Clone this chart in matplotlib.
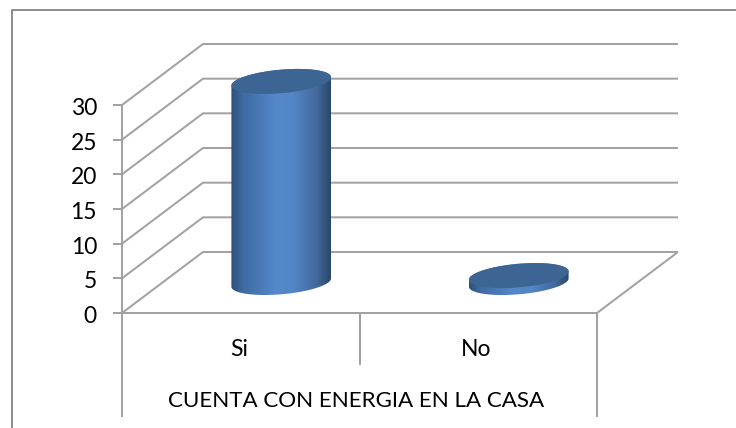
import numpy as np
import matplotlib
matplotlib.use("Agg")
import matplotlib.pyplot as plt
from matplotlib.colors import LinearSegmentedColormap
from matplotlib.lines import Line2D
from matplotlib.patches import Polygon

plt.rcParams['font.family'] = ['Lato', 'DejaVu Sans']

categories = ['Si', 'No']
values = [29, 1]
y_ticks = [0, 5, 10, 15, 20, 25, 30]
axis_title = 'CUENTA CON ENERGIA EN LA CASA'

W, H = 736, 428
grid_color = '#a2a2a2'
top_color = '#3c6594'
side_colors = ['#2e5078', '#3f6ba3', '#5488ca', '#5286c6', '#42699c', '#2a4768']
side_cmap = LinearSegmentedColormap.from_list(
    'cyl', list(zip([0, 0.12, 0.45, 0.62, 0.86, 1], side_colors)))

# floor depth in data units, 81px across and 61px up
X_PX = 475 / 2
Y_PX = 208 / 30
DX = 81 / X_PX
DY = 61 / Y_PX
BAR_A = 47 / X_PX
BAR_D = 0.205

fig = plt.figure(figsize=(W / 100, H / 100), dpi=100)
fig.patch.set_facecolor('white')
# frame around the chart
fig.add_artist(Line2D([12 / W, 12 / W, 1], [0, 1 - 10 / H, 1 - 10 / H], transform=fig.transFigure,
                      color='#8c8c8c', lw=1.4))

ax = fig.add_axes([122 / W, 1 - 313 / H, 475 / W, 208 / H])
ax.set_xlim(0, 2)
ax.set_ylim(0, 30)
ax.axis('off')


def line(xs, ys, z=2):
    ax.plot(xs, ys, color=grid_color, lw=1.45, clip_on=False, zorder=z, solid_capstyle='butt')


# walls and floor
for t in y_ticks:
    line([0, DX, 2 + DX], [t, t + DY, t + DY])
    line([-9 / X_PX, 0], [t, t])
    ax.text(-25 / X_PX, t - 3.5 / Y_PX, str(t), ha='right', va='center', fontsize=16.5, color='black')
line([0, 0], [0, 30])
line([0, 2, 2 + DX], [0, 0, DY])

# category axis below the floor
bottom = -104 / Y_PX
line([0, 0], [0, bottom])
line([2, 2], [0, bottom])
line([1, 1], [0, -52 / Y_PX])
for i, c in enumerate(categories):
    ax.text(i + 0.5 - 2 / X_PX, -37 / Y_PX, c, ha='center', va='center', fontsize=16.5, color='black')
ax.text(1 - 3 / X_PX, -88 / Y_PX, axis_title, ha='center', va='center', fontsize=16.1, color='black')

# cylinders
t = np.linspace(0, 2 * np.pi, 200, endpoint=False)
for i, v in enumerate(values):
    cx = i + 0.5 + DX / 2
    cy = DY / 2
    ex = BAR_A * np.cos(t) + BAR_D * DX * np.sin(t)
    ey = BAR_D * DY * np.sin(t)
    left = np.argmin(ex)
    right = np.argmax(ex)
    # lower half of the ellipse, going left to right
    idx = np.arange(left, left + 101) % 200
    lx, ly = cx + ex[idx], cy + ey[idx]
    upper = np.arange(right, right + 101) % 200
    ux, uy = cx + ex[upper], cy + v + ey[upper]
    outline = np.column_stack([np.r_[lx, ux], np.r_[ly, uy]])
    side = Polygon(outline, closed=True, transform=ax.transData, fc='none', ec='none')
    ax.add_patch(side)
    grad = ax.imshow(np.linspace(0, 1, 256).reshape(1, -1), cmap=side_cmap, aspect='auto',
                     extent=[cx + ex.min(), cx + ex.max(), cy + ey.min(), cy + v + ey.max()],
                     zorder=3)
    grad.set_clip_path(side)
    # the bar rises past the top of the axes box because of the depth offset
    grad.set_clip_box(fig.bbox)
    ax.fill(cx + ex, cy + v + ey, color=top_color, lw=0, zorder=4, clip_on=False)
ax.set_xlim(0, 2)
ax.set_ylim(0, 30)

fig.savefig('out.png', dpi=100)
